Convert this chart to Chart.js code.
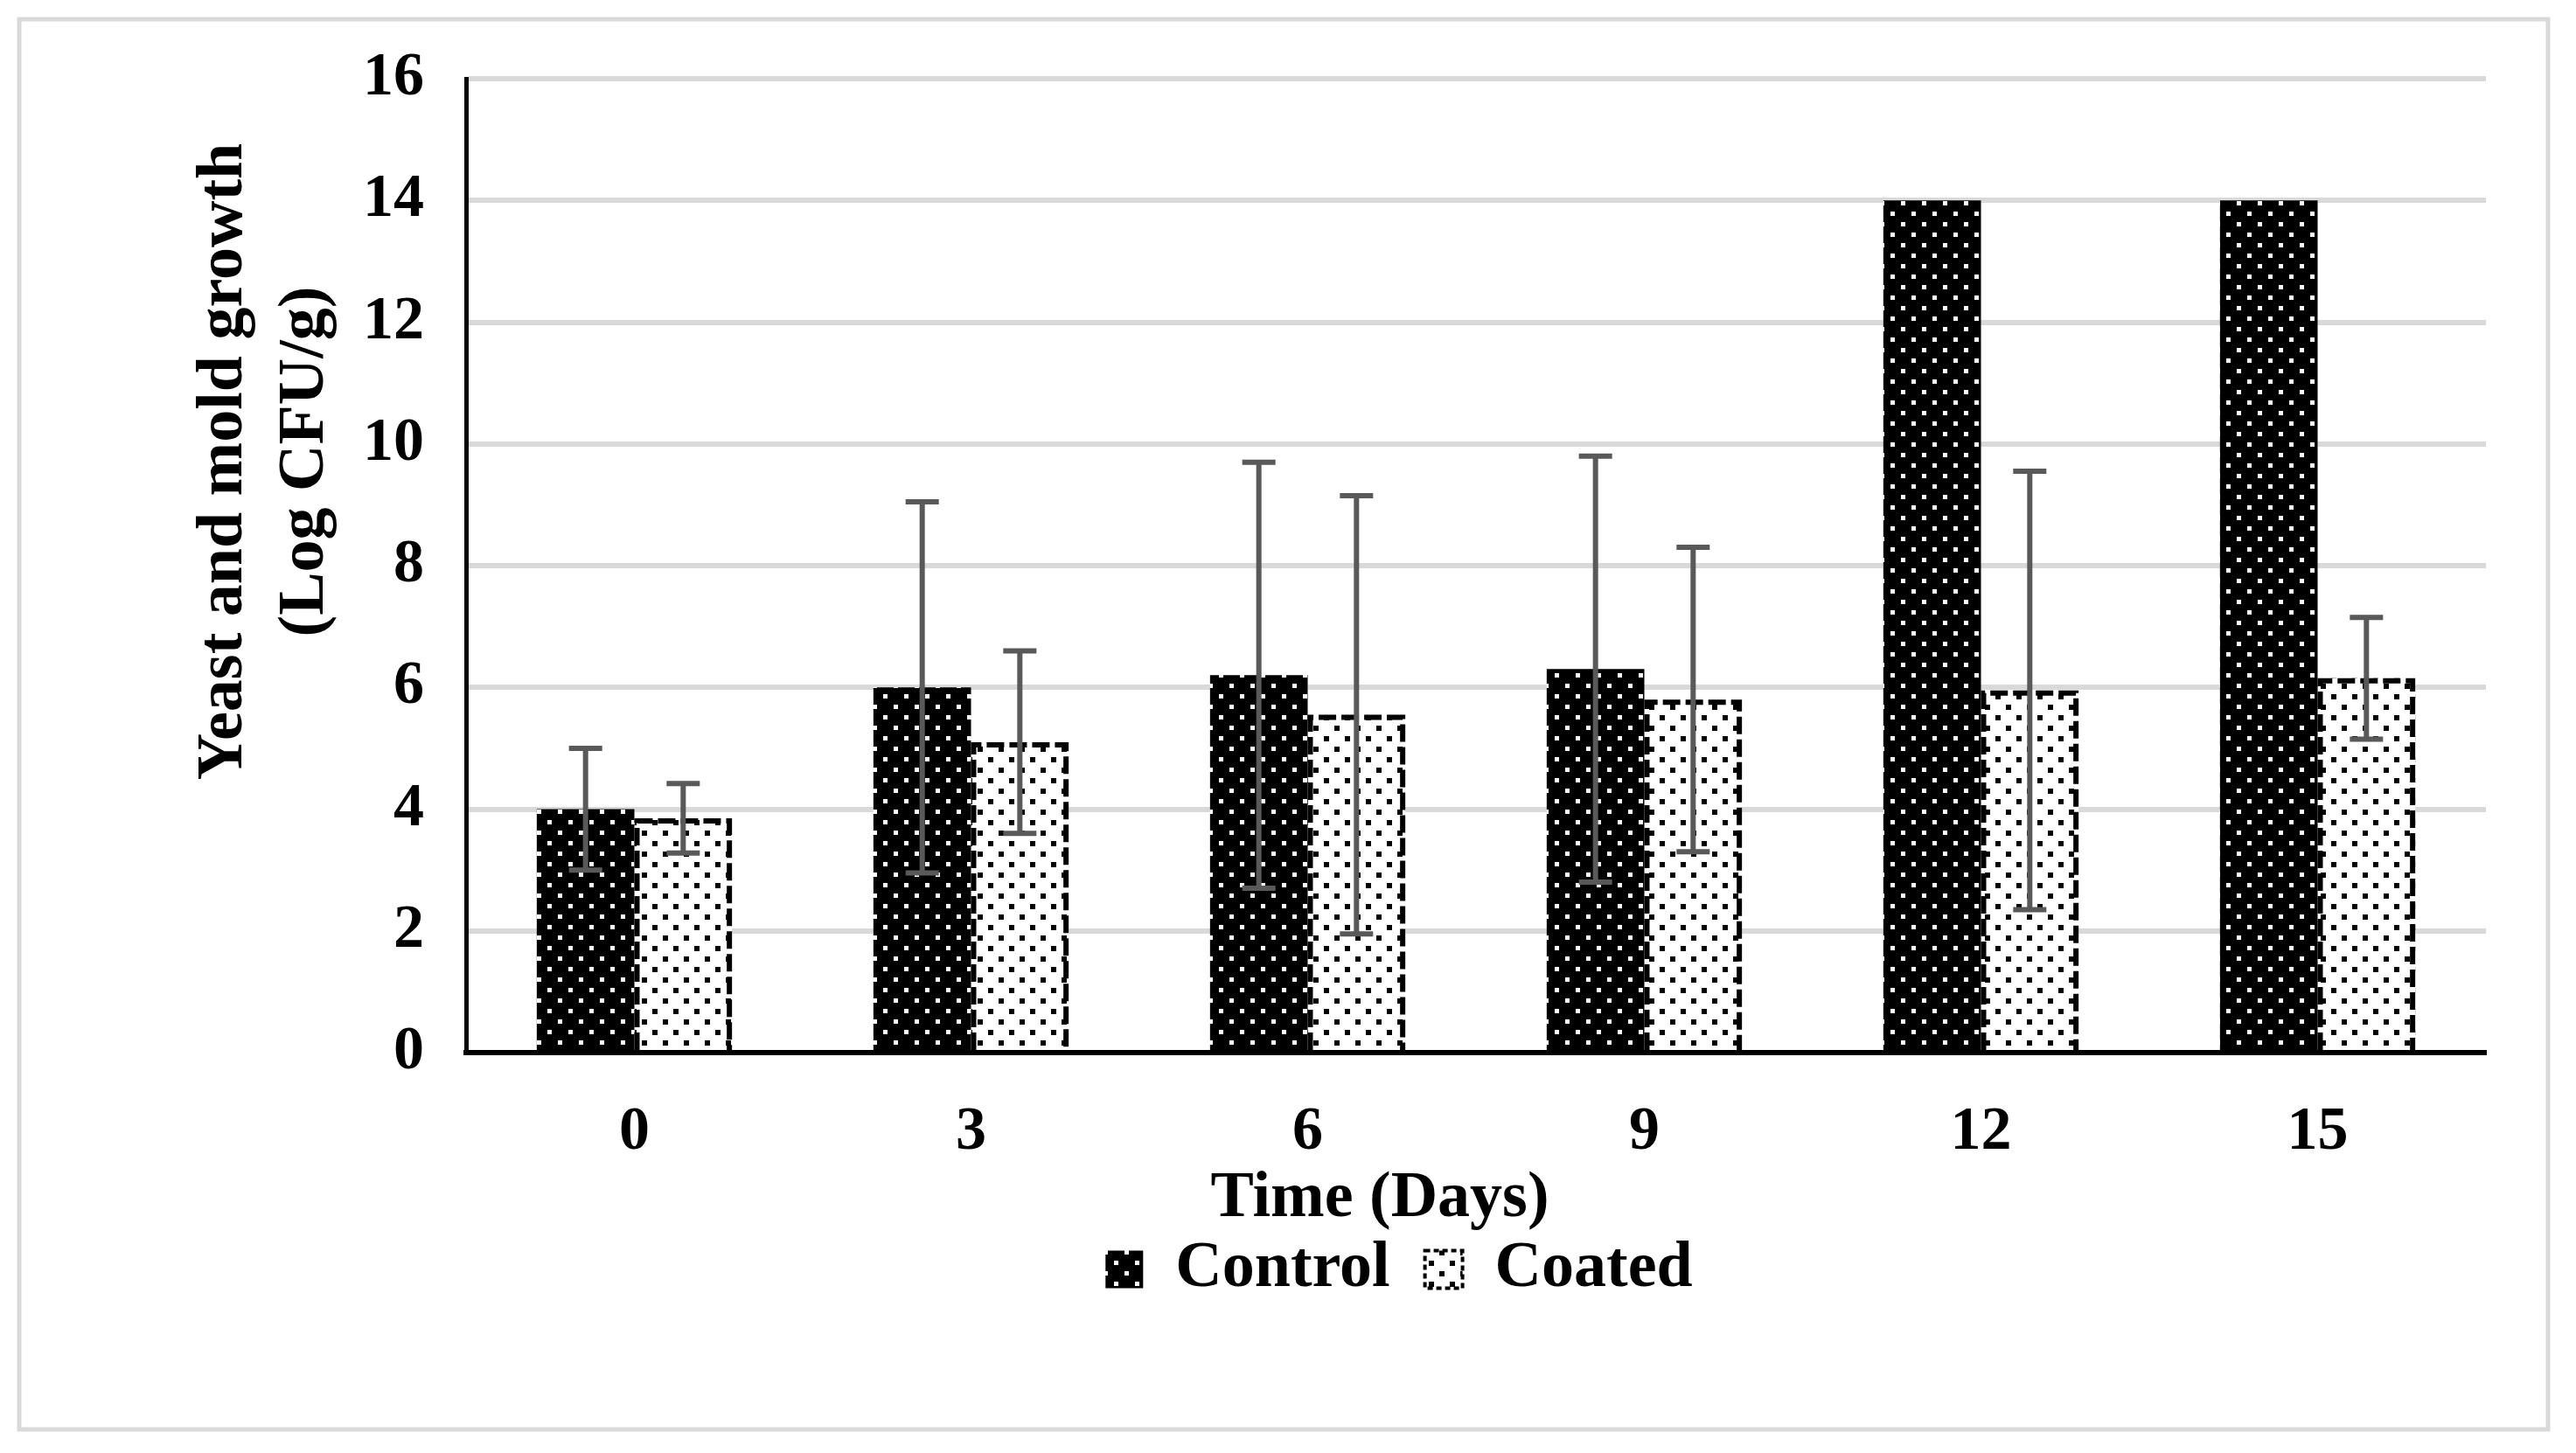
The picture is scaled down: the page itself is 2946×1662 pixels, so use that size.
<!DOCTYPE html>
<html>
<head>
<meta charset="utf-8">
<title>Yeast and mold growth</title>
<script src="https://cdn.jsdelivr.net/npm/chart.js@4/dist/chart.umd.min.js"></script>
<style>
  html, body { margin: 0; padding: 0; background: #fff; }
  #wrap { width: 2946px; height: 1662px; }
</style>
</head>
<body>
<div id="wrap"><canvas id="barChart" width="2946" height="1662"></canvas></div>
<script>
// Data
const days = ['0', '3', '6', '9', '12', '15'];
const controlMeans = [4.0, 6.0, 6.2, 6.3, 14.0, 14.0];
const coatedMeans = [3.85, 5.1, 5.55, 5.8, 5.95, 6.15];
const controlErr = [1.0, 3.05, 3.5, 3.5, 0, 0];
const coatedErr = [0.57, 1.5, 3.6, 2.5, 3.6, 1.0];
const yMin = 0, yMax = 16, yStep = 2;

const xTitle = 'Time (Days)';
const yTitleLines = ['Yeast and mold growth', '(Log CFU/g)'];
const FONT = "'Liberation Serif', 'Times New Roman', serif";

/**
 * Small dotted tile used as bar fill (square dots in a staggered grid).
 */
function makeDotPattern(bg, fg, dot) {
    const tile = document.createElement('canvas');
    tile.width = 24;
    tile.height = 24;
    const c = tile.getContext('2d');
    c.fillStyle = bg;
    c.fillRect(0, 0, 24, 24);
    c.fillStyle = fg;
    c.fillRect(2, 2, dot, dot);
    c.fillRect(14, 14, dot, dot);
    return c.createPattern(tile, 'repeat');
}

/**
 * Frame, dashed outline of the coated bars, error bars and axis titles.
 */
const figureExtras = {
    id: 'figureExtras',
    beforeDraw(chart) {
        const ctx = chart.ctx;
        ctx.save();
        ctx.fillStyle = '#fff';
        ctx.fillRect(0, 0, chart.width, chart.height);
        ctx.strokeStyle = '#d9d9d9';
        ctx.lineWidth = 5;
        ctx.strokeRect(22, 22, 2892, 1613);
        ctx.restore();
    },
    afterDatasetsDraw(chart) {
        const ctx = chart.ctx;
        const yScale = chart.scales.y;

        // dashed outline on the coated bars
        const coatedMeta = chart.getDatasetMeta(1);
        ctx.save();
        ctx.strokeStyle = '#000';
        ctx.lineWidth = 6;
        ctx.setLineDash([20, 6]);
        coatedMeta.data.forEach(bar => {
            const p = bar.getProps(['x', 'y', 'base', 'width'], true);
            const l = p.x - p.width / 2 + 3, r = p.x + p.width / 2 - 3;
            ctx.beginPath();
            ctx.moveTo(l, p.base);
            ctx.lineTo(l, p.y + 3);
            ctx.lineTo(r, p.y + 3);
            ctx.lineTo(r, p.base);
            ctx.stroke();
        });
        ctx.restore();

        // error bars
        const errs = [controlErr, coatedErr];
        const means = [controlMeans, coatedMeans];
        ctx.save();
        ctx.strokeStyle = '#595959';
        ctx.lineWidth = 6;
        errs.forEach((err, di) => {
            chart.getDatasetMeta(di).data.forEach((bar, i) => {
                if (!err[i]) return;
                const x = bar.x;
                const top = yScale.getPixelForValue(means[di][i] + err[i]);
                const bot = yScale.getPixelForValue(means[di][i] - err[i]);
                ctx.beginPath();
                ctx.moveTo(x, top); ctx.lineTo(x, bot);
                ctx.moveTo(x - 19, top); ctx.lineTo(x + 19, top);
                ctx.moveTo(x - 19, bot); ctx.lineTo(x + 19, bot);
                ctx.stroke();
            });
        });
        ctx.restore();
    },
    afterDraw(chart) {
        const ctx = chart.ctx;
        ctx.save();
        ctx.fillStyle = '#000';
        ctx.font = 'bold 74px ' + FONT;
        ctx.textAlign = 'center';
        ctx.textBaseline = 'middle';
        ctx.fillText(xTitle, 1578, 1372);

        ctx.translate(0, 528);
        ctx.rotate(-Math.PI / 2);
        ctx.fillText(yTitleLines[0], 0, 257);
        ctx.fillText(yTitleLines[1], 0, 350);
        ctx.restore();
    }
};

function initializeChart() {
    const canvas = document.getElementById('barChart');
    if (!canvas) return;

    const controlFill = makeDotPattern('#000', '#fff', 5);
    const coatedFill = makeDotPattern('#fff', '#000', 6);

    new Chart(canvas.getContext('2d'), {
        type: 'bar',
        data: {
            labels: days,
            datasets: [{
                label: 'Control',
                data: controlMeans,
                backgroundColor: controlFill,
                borderWidth: 0,
                categoryPercentage: 0.58,
                barPercentage: 1.0
            }, {
                label: 'Coated',
                data: coatedMeans,
                backgroundColor: coatedFill,
                borderWidth: 0,
                categoryPercentage: 0.58,
                barPercentage: 1.0
            }]
        },
        options: {
            responsive: false,
            devicePixelRatio: 1,
            animation: false,
            layout: { padding: { left: 357, right: 103, top: 88, bottom: 163 } },
            plugins: {
                tooltip: { enabled: false },
                title: { display: false },
                legend: {
                    position: 'bottom',
                    labels: {
                        color: '#000',
                        font: { family: FONT, size: 74, weight: 'bold' },
                        boxWidth: 43,
                        boxHeight: 43,
                        padding: 40,
                        generateLabels(chart) {
                            const items = Chart.defaults.plugins.legend.labels.generateLabels(chart);
                            items.forEach((it, i) => {
                                it.strokeStyle = '#000';
                                it.lineWidth = i === 1 ? 4 : 0;
                                it.lineDash = i === 1 ? [6, 4] : [];
                            });
                            return items;
                        }
                    }
                }
            },
            scales: {
                x: {
                    offset: true,
                    grid: { display: false, drawTicks: false },
                    border: { display: true, color: '#000', width: 6 },
                    ticks: {
                        color: '#000',
                        padding: 50,
                        font: { family: FONT, size: 70, weight: 'bold' }
                    },
                    afterFit(axis) { axis.height = 171; }
                },
                y: {
                    min: yMin,
                    max: yMax,
                    grid: {
                        drawTicks: false,
                        lineWidth: 6,
                        color: c => (c.tick && c.tick.value === 0) ? 'rgba(0,0,0,0)' : '#d9d9d9'
                    },
                    border: { display: true, color: '#000', width: 5 },
                    ticks: {
                        stepSize: yStep,
                        color: '#000',
                        padding: 48,
                        font: { family: FONT, size: 70, weight: 'bold' }
                    },
                    afterFit(axis) { axis.width = 176; }
                }
            }
        },
        plugins: [figureExtras]
    });
}

document.addEventListener('DOMContentLoaded', initializeChart);
</script>
</body>
</html>
